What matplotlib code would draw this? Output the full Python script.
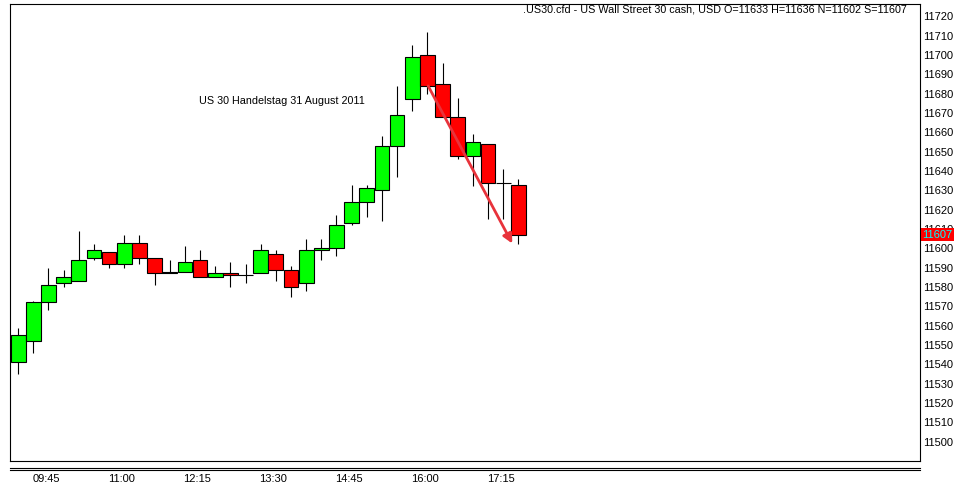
import numpy as np
import matplotlib
matplotlib.use("Agg")
import matplotlib.pyplot as plt
import matplotlib.transforms as mtransforms
from matplotlib.lines import Line2D

plt.rcParams["font.family"] = ["Liberation Sans", "DejaVu Sans"]

# 15-minute candles, US30 cash, 31 Aug 2011
times = ["09:15", "09:30", "09:45", "10:00", "10:15", "10:30", "10:45", "11:00",
         "11:15", "11:30", "11:45", "12:00", "12:15", "12:30", "12:45", "13:00",
         "13:15", "13:30", "13:45", "14:00", "14:15", "14:30", "14:45", "15:00",
         "15:15", "15:30", "15:45", "16:00", "16:15", "16:30", "16:45", "17:00",
         "17:15", "17:30"]
opens = [11541, 11552, 11572, 11582, 11583, 11595, 11598, 11592, 11603, 11595,
         11587, 11588, 11594, 11585, 11587, 11586, 11587, 11597, 11589, 11582,
         11599, 11600, 11613, 11624, 11630, 11653, 11677, 11700, 11685, 11668,
         11648, 11654, 11634, 11633]
highs = [11559, 11573, 11590, 11589, 11609, 11602, 11598, 11607, 11607, 11595,
         11594, 11601, 11599, 11591, 11593, 11592, 11602, 11599, 11591, 11605,
         11605, 11617, 11633, 11633, 11658, 11684, 11705, 11712, 11696, 11678,
         11659, 11654, 11641, 11636]
lows = [11535, 11546, 11568, 11580, 11583, 11594, 11590, 11590, 11592, 11581,
        11587, 11588, 11585, 11585, 11580, 11582, 11587, 11583, 11575, 11578,
        11594, 11596, 11612, 11616, 11614, 11637, 11671, 11680, 11668, 11646,
        11632, 11615, 11615, 11602]
closes = [11555, 11572, 11581, 11585, 11594, 11599, 11592, 11603, 11595, 11587,
          11588, 11593, 11585, 11587, 11586, 11586, 11599, 11589, 11580, 11599,
          11600, 11612, 11624, 11631, 11653, 11669, 11699, 11684, 11668, 11648,
          11655, 11634, 11634, 11607]
price_ticks = list(range(11500, 11730, 10))
last_price = 11607
title = ".US30.cfd - US Wall Street 30 cash, USD O=11633 H=11636 N=11602 S=11607"
note = "US 30 Handelstag 31 August 2011"

W, H = 961, 487
fig = plt.figure(figsize=(W / 100, H / 100), dpi=100)
ax = fig.add_axes([10 / W, (H - 461) / H, 910 / W, 457 / H])

x = np.arange(len(times))
o = np.array(opens)
c = np.array(closes)
colors = np.where(c >= o, "#00ff00", "#ff0000")

ax.vlines(x, lows, highs, color="black", linewidth=0.8, zorder=1)
ax.bar(x, c - o, bottom=o, width=0.97, color=colors, edgecolor="black",
       linewidth=0.8, zorder=2)

ax.set_xlim(-0.54, 59.5)
ax.set_ylim(11490.0, 11726.4)

# trend arrow
ax.annotate("", xy=(32.6, 11602.5), xytext=(27.05, 11684),
            arrowprops=dict(arrowstyle="-|>", color="#e8333b", lw=2,
                            mutation_scale=14, shrinkA=0, shrinkB=0),
            zorder=5)

ax.text(11.93, 11676.3, note, fontsize=7.75, ha="left", va="center")

# right price axis
ax.yaxis.tick_right()
ax.set_yticks(price_ticks)
ax.set_yticklabels([str(p) for p in price_ticks], fontsize=8)
ax.tick_params(axis="y", length=0, pad=2)

trans = mtransforms.blended_transform_factory(ax.transAxes, ax.transData)
ax.text(1.0 + 2.5 / 910, last_price, str(last_price), transform=trans,
        fontsize=8, color="#00ffff", ha="left", va="center", zorder=10,
        bbox=dict(boxstyle="square,pad=0.15", facecolor="#ff0000",
                  edgecolor="none"), clip_on=False)

# time axis
tick_idx = list(range(2, len(times), 5))
ax.set_xticks([i - 0.17 for i in tick_idx])
ax.set_xticklabels([times[i] for i in tick_idx], fontsize=8)
ax.tick_params(axis="x", length=0, pad=9)

for s in ax.spines.values():
    s.set_linewidth(0.8)
    s.set_color("black")

# double separator lines under the chart
for yy in (467.5, 470.2):
    fig.add_artist(Line2D([10 / W, 920 / W], [1 - yy / H, 1 - yy / H],
                          color="black", linewidth=0.8))

fig.text(907 / W, 1 - 9 / H, title, fontsize=7.75, ha="right", va="center")

fig.savefig("out.png", dpi=100)
